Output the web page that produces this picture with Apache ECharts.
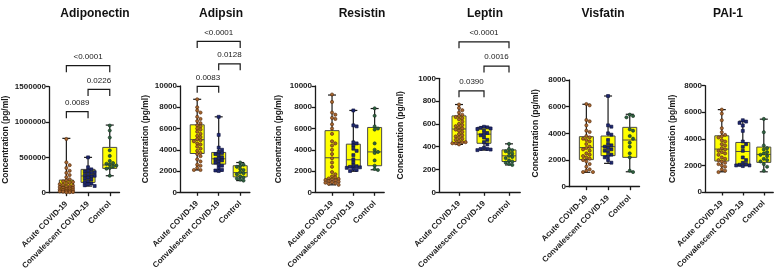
<!DOCTYPE html>
<html>
<head>
<meta charset="utf-8">
<script src="https://cdn.jsdelivr.net/npm/echarts@6/dist/echarts.min.js"></script>
<style>
html, body { margin: 0; padding: 0; background: #fff; }
#main { width: 778px; height: 274px; }
</style>
</head>
<body>
<div id="main"></div>
<script>
var categories = ['Acute COVID-19', 'Convalescent COVID-19', 'Control'];
var titles = ['Adiponectin', 'Adipsin', 'Resistin', 'Leptin', 'Visfatin', 'PAI-1'];

// y axis ticks
var adiponectinTicks = [0, 500000, 1000000, 1500000];
var adipsinTicks = [0, 2000, 4000, 6000, 8000, 10000];
var resistinTicks = [0, 2000, 4000, 6000, 8000, 10000];
var leptinTicks = [0, 200, 400, 600, 800, 1000];
var visfatinTicks = [0, 2000, 4000, 6000, 8000];
var paiTicks = [0, 2000, 4000, 6000, 8000];

// box stats per group: [min, q1, median, q3, max]
var adiponectinBox = [[5000, 28000, 85000, 179000, 769000], [94000, 146000, 236000, 330000, 500000], [240000, 344000, 392000, 641000, 957000]];
var adipsinBox = [[2100, 3650, 4950, 6350, 8750], [2000, 2650, 3150, 3750, 7100], [1100, 1450, 1850, 2500, 2800]];
var resistinBox = [[700, 1250, 3250, 5800, 9150], [1980, 2380, 3060, 4530, 7700], [2120, 2500, 3800, 6100, 7880]];
var leptinBox = [[420, 435, 555, 670, 770], [370, 430, 510, 570, 575], [240, 270, 320, 372, 425]];
var visfatinBox = [[1080, 2030, 2930, 3750, 6180], [1750, 2330, 3000, 3800, 6800], [1120, 2200, 3500, 4450, 5430]];
var paiBox = [[1520, 2330, 3230, 4230, 6200], [1970, 2000, 3050, 3730, 5330], [1520, 2230, 2830, 3380, 5480]];

// individual points
var adiponectinAcute = [760000, 430000, 390000, 350000, 310000, 280000, 250000, 220000, 190000, 175000, 160000, 150000, 140000, 130000, 120000, 110000, 100000, 90000, 85000, 80000, 70000, 65000, 60000, 50000, 45000, 40000, 35000, 30000, 25000, 20000, 15000, 10000, 8000, 5000];
var adiponectinConv = [500000, 360000, 330000, 310000, 300000, 290000, 280000, 265000, 250000, 240000, 230000, 215000, 200000, 185000, 165000, 150000, 130000, 120000, 105000, 95000];
var adiponectinCtrl = [950000, 880000, 780000, 600000, 520000, 450000, 420000, 410000, 400000, 385000, 370000, 350000, 340000, 240000];

var adipsinAcute = [8750, 8000, 7700, 7500, 7100, 6900, 6700, 6500, 6300, 6200, 6000, 5900, 5700, 5500, 5300, 5200, 5000, 4900, 4800, 4600, 4500, 4300, 4100, 3900, 3700, 3600, 3400, 3100, 2900, 2600, 2500, 2300, 2100, 2100];
var adipsinConv = [7100, 5400, 4200, 4000, 3800, 3700, 3600, 3500, 3300, 3200, 3100, 3000, 2900, 2800, 2600, 2500, 2300, 2100, 2050, 2000];
var adipsinCtrl = [2800, 2600, 2500, 2400, 2200, 2100, 1900, 1800, 1700, 1500, 1400, 1300, 1200, 1100];

var resistinAcute = [9200, 8500, 7500, 7300, 7000, 6900, 6400, 6000, 5500, 4800, 4600, 4400, 4000, 3600, 3200, 2800, 2400, 1900, 1700, 1500, 1400, 1300, 1250, 1200, 1150, 1100, 1050, 1000, 950, 900, 850, 800, 700];
var resistinConv = [7700, 6300, 6200, 4700, 4600, 4400, 4100, 3900, 3500, 3100, 2800, 2500, 2450, 2400, 2350, 2300, 2200, 2100, 2000];
var resistinCtrl = [7900, 7200, 6200, 6000, 5900, 4600, 4000, 3800, 3700, 3000, 2500, 2200, 2100];

var leptinAcute = [770, 740, 720, 700, 680, 670, 660, 650, 640, 620, 600, 590, 580, 570, 560, 550, 540, 530, 510, 500, 490, 480, 470, 460, 450, 440, 440, 430, 430, 420];
var leptinConv = [575, 570, 565, 560, 555, 540, 520, 510, 500, 480, 460, 440, 420, 390, 380, 380, 375, 370];
var leptinCtrl = [425, 380, 370, 360, 350, 340, 320, 310, 300, 280, 270, 260, 250, 240];

var visfatinAcute = [6200, 6100, 5000, 4900, 4600, 4200, 4100, 3800, 3700, 3600, 3500, 3400, 3200, 3000, 2900, 2800, 2700, 2500, 2400, 2300, 2200, 2100, 2000, 1900, 1700, 1500, 1300, 1200, 1100, 1100];
var visfatinConv = [6800, 4600, 4500, 4000, 3900, 3500, 3200, 3100, 3000, 2900, 2800, 2700, 2600, 2400, 2300, 2200, 2000, 1800];
var visfatinCtrl = [5400, 5300, 5200, 4300, 4200, 3800, 3600, 3300, 3000, 2500, 2200, 1200, 1100];

var paiAcute = [6200, 5900, 5400, 4800, 4500, 4300, 4200, 4100, 3900, 3800, 3600, 3500, 3300, 3200, 3100, 3000, 2900, 2800, 2600, 2500, 2400, 2300, 2200, 2100, 2000, 1900, 1700, 1600, 1500];
var paiConv = [5400, 5300, 5200, 5000, 4600, 3800, 3600, 3400, 3100, 2600, 2400, 2200, 2100, 2050, 2000, 2000, 1950];
var paiCtrl = [5500, 4500, 3500, 3300, 3200, 3000, 2900, 2800, 2700, 2500, 2400, 2300, 2100, 1900, 1600];

// significance brackets: [from group, to group, height, p value]
var adiponectinP = [[0, 1, 1146000, '0.0089'], [1, 2, 1462000, '0.0226'], [0, 2, 1797000, '<0.0001']];
var adipsinP = [[0, 1, 9970, '0.0083'], [1, 2, 12090, '0.0128'], [0, 2, 14190, '<0.0001']];
var leptinP = [[0, 1, 890, '0.0390'], [1, 2, 1107, '0.0016'], [0, 2, 1320, '<0.0001']];

var panels = [
    { ticks: adiponectinTicks, box: adiponectinBox, pts: [adiponectinAcute, adiponectinConv, adiponectinCtrl], brackets: adiponectinP },
    { ticks: adipsinTicks, box: adipsinBox, pts: [adipsinAcute, adipsinConv, adipsinCtrl], brackets: adipsinP },
    { ticks: resistinTicks, box: resistinBox, pts: [resistinAcute, resistinConv, resistinCtrl], brackets: [] },
    { ticks: leptinTicks, box: leptinBox, pts: [leptinAcute, leptinConv, leptinCtrl], brackets: leptinP },
    { ticks: visfatinTicks, box: visfatinBox, pts: [visfatinAcute, visfatinConv, visfatinCtrl], brackets: [] },
    { ticks: paiTicks, box: paiBox, pts: [paiAcute, paiConv, paiCtrl], brackets: [] }
];

// pixel layout of each panel
var layout = [
    { left: 49, top: 86.7, height: 106, step: 21.7, titleX: 90, nameGap: 39 },
    { left: 180, top: 86, height: 106.3, step: 21.5, titleX: 216, nameGap: 30 },
    { left: 315, top: 86, height: 106.3, step: 21.3, titleX: 357, nameGap: 32 },
    { left: 439, top: 78.3, height: 114, step: 25, titleX: 480, nameGap: 34 },
    { left: 569, top: 80, height: 106.7, step: 21.7, titleX: 598, nameGap: 29 },
    { left: 705, top: 85.7, height: 106.3, step: 21, titleX: 723, nameGap: 28 }
];

var FONT = '"Liberation Sans", Arial, sans-serif';
var X_MIN = -0.8, X_MAX = 2.45;
var dotFill = ['#a8662f', '#1e2870', '#2f6240'];
var dotStroke = ['#4d2608', '#0a0d38', '#163020'];

// spread dots sideways so they do not sit on top of each other
function swarm(values, pxPerUnit) {
    var d = 3.3, limit = 6.6, placed = [], out = [];
    values.forEach(function (v) {
        var y = v * pxPerUnit, best = 0, bestDist = -1;
        for (var k = 0; k < 12; k++) {
            var off = k === 0 ? 0 : (k % 2 ? 1 : -1) * Math.ceil(k / 2) * d;
            if (Math.abs(off) > limit) continue;
            var minDist = 1e9;
            placed.forEach(function (p) {
                var dist = Math.sqrt((p[0] - off) * (p[0] - off) + (p[1] - y) * (p[1] - y));
                if (dist < minDist) minDist = dist;
            });
            if (minDist >= d * 0.95) { best = off; bestDist = minDist; break; }
            if (minDist > bestDist) { bestDist = minDist; best = off; }
        }
        placed.push([best, y]);
        out.push(best);
    });
    return out;
}

var grids = [], xAxes = [], yAxes = [], series = [], titleOpts = [];
var axisColor = '#1a1a1a';

panels.forEach(function (p, i) {
    var L = layout[i];
    var yMax = p.ticks[p.ticks.length - 1];
    grids.push({ left: L.left, top: L.top, width: L.step * (X_MAX - X_MIN), height: L.height, outerBoundsMode: 'none' });
    titleOpts.push({
        text: titles[i], left: L.titleX, top: 3, textAlign: 'center',
        textStyle: { fontSize: 12, fontWeight: 'bold', color: '#111', fontFamily: FONT }
    });
    xAxes.push({
        gridIndex: i, type: 'value', min: X_MIN, max: X_MAX,
        axisLine: { show: true, onZero: false, lineStyle: { color: axisColor, width: 1.3 } },
        axisTick: { show: true, customValues: [0, 1, 2], length: 3.5, lineStyle: { color: axisColor, width: 1.3 } },
        axisLabel: {
            customValues: [0, 1, 2], rotate: 45, margin: 10, fontSize: 8, fontWeight: 'bold', color: '#1a1a1a', fontFamily: FONT,
            formatter: function (v) { return categories[Math.round(v)]; }
        },
        splitLine: { show: false }
    });
    yAxes.push({
        gridIndex: i, type: 'value', min: p.ticks[0], max: yMax, interval: p.ticks[1] - p.ticks[0],
        axisLine: { show: true, onZero: false, lineStyle: { color: axisColor, width: 1.3 } },
        axisTick: { show: true, length: 3.5, lineStyle: { color: axisColor, width: 1.3 } },
        axisLabel: { fontSize: 8, fontWeight: 'bold', color: '#1a1a1a', margin: 3, fontFamily: FONT, formatter: function (v) { return String(v); } },
        splitLine: { show: false },
        name: 'Concentration (pg/ml)', nameLocation: 'middle', nameGap: L.nameGap, nameRotate: 90,
        nameTextStyle: { fontSize: 8.5, fontWeight: 'bold', color: '#1a1a1a', fontFamily: FONT }
    });

    // boxes
    series.push({
        type: 'custom', xAxisIndex: i, yAxisIndex: i, clip: false, z: 2,
        encode: { x: 0, y: [1, 2, 3, 4, 5] },
        data: p.box.map(function (b, g) { return [g].concat(b); }),
        renderItem: function (params, api) {
            var g = api.value(0);
            var pMin = api.coord([g, api.value(1)]), pQ1 = api.coord([g, api.value(2)]);
            var pMed = api.coord([g, api.value(3)]), pQ3 = api.coord([g, api.value(4)]);
            var pMax = api.coord([g, api.value(5)]);
            var x = pMin[0], hw = 7, cw = 4;
            var ls = { stroke: '#1a1a1a', lineWidth: 1.2 };
            return {
                type: 'group', children: [
                    { type: 'line', shape: { x1: x, y1: pMax[1], x2: x, y2: pMin[1] }, style: ls },
                    { type: 'line', shape: { x1: x - cw, y1: pMax[1], x2: x + cw, y2: pMax[1] }, style: ls },
                    { type: 'line', shape: { x1: x - cw, y1: pMin[1], x2: x + cw, y2: pMin[1] }, style: ls },
                    { type: 'rect', shape: { x: x - hw, y: pQ3[1], width: hw * 2, height: pQ1[1] - pQ3[1] }, style: { fill: '#ffff00', stroke: '#4a4a4a', lineWidth: 1 } },
                    { type: 'line', shape: { x1: x - hw, y1: pMed[1], x2: x + hw, y2: pMed[1] }, style: { stroke: '#4a4a4a', lineWidth: 1 } }
                ]
            };
        }
    });

    // dots
    var pxPerUnit = L.height / yMax;
    var dots = [];
    p.pts.forEach(function (vals, g) {
        var offs = swarm(vals, pxPerUnit);
        vals.forEach(function (v, k) { dots.push([g, v, offs[k]]); });
    });
    series.push({
        type: 'custom', xAxisIndex: i, yAxisIndex: i, clip: false, z: 3,
        encode: { x: 0, y: 1 },
        data: dots,
        renderItem: function (params, api) {
            var g = api.value(0);
            var c = api.coord([g, api.value(1)]);
            var cx = c[0] + api.value(2), cy = c[1];
            var st = { fill: dotFill[g], stroke: dotStroke[g], lineWidth: 0.6 };
            if (g === 1) {
                return { type: 'rect', shape: { x: cx - 1.5, y: cy - 1.5, width: 3, height: 3 }, style: st };
            }
            return { type: 'circle', shape: { cx: cx, cy: cy, r: 1.6 }, style: st };
        }
    });

    // significance brackets
    if (p.brackets.length) {
        var br = p.brackets;
        series.push({
            type: 'custom', xAxisIndex: i, yAxisIndex: i, clip: false, z: 4,
            encode: { x: [0, 1], y: 2 },
            data: br.map(function (b) { return [b[0], b[1], b[2]]; }),
            renderItem: function (params, api) {
                var a = api.coord([api.value(0), api.value(2)]);
                var b = api.coord([api.value(1), api.value(2)]);
                var leg = 6.5;
                return {
                    type: 'group', children: [
                        { type: 'polyline', shape: { points: [[a[0], a[1] + leg], [a[0], a[1]], [b[0], b[1]], [b[0], b[1] + leg]] }, style: { stroke: '#1a1a1a', lineWidth: 1.2, fill: null } },
                        { type: 'text', style: { text: br[params.dataIndex][3], x: (a[0] + b[0]) / 2, y: a[1] - 9, align: 'center', verticalAlign: 'middle', font: '8px ' + FONT, fill: '#1a1a1a' } }
                    ]
                };
            }
        });
    }
});

var myChart = echarts.init(document.getElementById('main'));
myChart.setOption({
    backgroundColor: '#fff',
    animation: false,
    textStyle: { fontFamily: FONT },
    title: titleOpts,
    grid: grids,
    xAxis: xAxes,
    yAxis: yAxes,
    series: series
});
</script>
</body>
</html>
